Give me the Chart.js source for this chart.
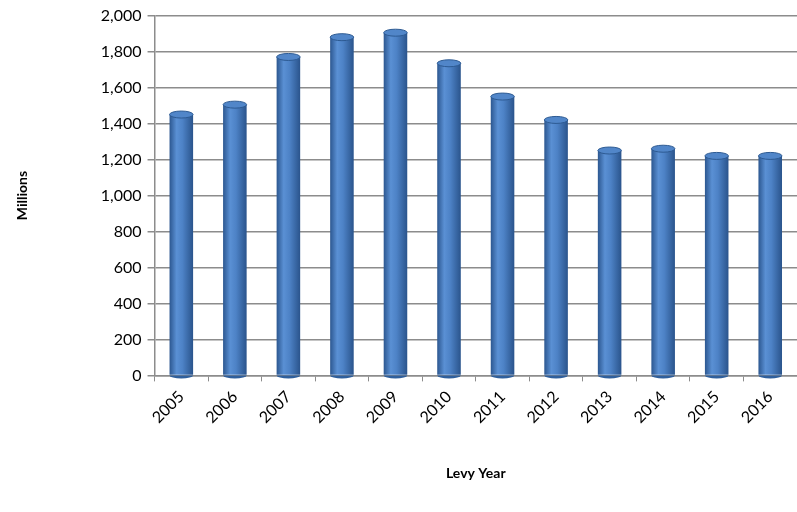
<!DOCTYPE html>
<html>
<head>
<meta charset="utf-8">
<script src="https://cdn.jsdelivr.net/npm/chart.js@4"></script>
<style>
  html, body { margin: 0; padding: 0; background: #fff; overflow: hidden; }
  #wrap { width: 797px; height: 512px; }
</style>
</head>
<body>
<div id="wrap"><canvas id="myChart"></canvas></div>
<script>
const years = ['2005', '2006', '2007', '2008', '2009', '2010', '2011', '2012', '2013', '2014', '2015', '2016'];
const levy = [1450, 1505, 1770, 1880, 1905, 1735, 1550, 1420, 1250, 1260, 1220, 1220];
const yTicks = [0, 200, 400, 600, 800, 1000, 1200, 1400, 1600, 1800, 2000];

const ctx = document.getElementById('myChart');

// cylinder look: shaded body + elliptical top, from the bar elements
const cylinder = {
  id: 'cylinder',
  beforeDatasetsDraw(chart) {
    const c = chart.ctx;
    chart.getDatasetMeta(0).data.forEach(bar => {
      const w = bar.width;
      const g = c.createLinearGradient(bar.x - w / 2, 0, bar.x + w / 2, 0);
      g.addColorStop(0, '#2c5790');
      g.addColorStop(0.3, '#5a90d4');
      g.addColorStop(0.55, '#4d82c6');
      g.addColorStop(1, '#2a548c');
      bar.options = Object.assign({}, bar.options, { backgroundColor: g });
    });
  },
  afterDatasetsDraw(chart) {
    const c = chart.ctx;
    const base = chart.scales.y.getPixelForValue(0);
    c.save();
    chart.getDatasetMeta(0).data.forEach(bar => {
      const w = bar.width;
      c.beginPath();
      c.ellipse(bar.x, base, w / 2, 3, 0, 0, Math.PI);
      c.fillStyle = '#2f5f9c';
      c.fill();
      c.beginPath();
      c.ellipse(bar.x, bar.y, w / 2, 3.5, 0, 0, Math.PI * 2);
      c.fillStyle = '#5186c9';
      c.fill();
      c.strokeStyle = '#2d5a92';
      c.lineWidth = 1;
      c.stroke();
    });
    c.restore();
  }
};

new Chart(ctx, {
  type: 'bar',
  data: {
    labels: years,
    datasets: [{
      label: 'Levy',
      data: levy,
      backgroundColor: '#4a7ebb',
      borderWidth: 0,
      barPercentage: 0.44,
      categoryPercentage: 1.0
    }]
  },
  options: {
    responsive: true,
    maintainAspectRatio: false,
    animation: false,
    layout: { padding: { top: 4, right: 0, left: 10, bottom: 26 } },
    plugins: {
      legend: { display: false },
      tooltip: { enabled: false }
    },
    scales: {
      x: {
        grid: { display: true, drawOnChartArea: false, color: '#8c8c8c', tickLength: 6, lineWidth: 1 },
        border: { color: '#8c8c8c', width: 1.5 },
        ticks: { color: '#000', font: { family: 'Lato', size: 16 }, minRotation: 45, maxRotation: 45, padding: 6 },
        title: { display: true, text: 'Levy Year', color: '#000', font: { family: 'Lato', size: 14, weight: 'bold' }, padding: { top: 32 } }
      },
      y: {
        min: 0,
        max: 2000,
        afterBuildTicks: axis => { axis.ticks = yTicks.map(v => ({ value: v })); },
        grid: { color: '#8c8c8c', lineWidth: 1.5, tickLength: 7 },
        border: { color: '#8c8c8c', width: 1.5 },
        ticks: {
          color: '#000',
          font: { family: 'Lato', size: 16 },
          padding: 6,
          callback: v => v.toLocaleString('en-US')
        },
        title: { display: true, text: 'Millions', color: '#000', font: { family: 'Lato', size: 14, weight: 'bold' }, padding: { bottom: 64 } }
      }
    }
  },
  plugins: [cylinder]
});
</script>
</body>
</html>
